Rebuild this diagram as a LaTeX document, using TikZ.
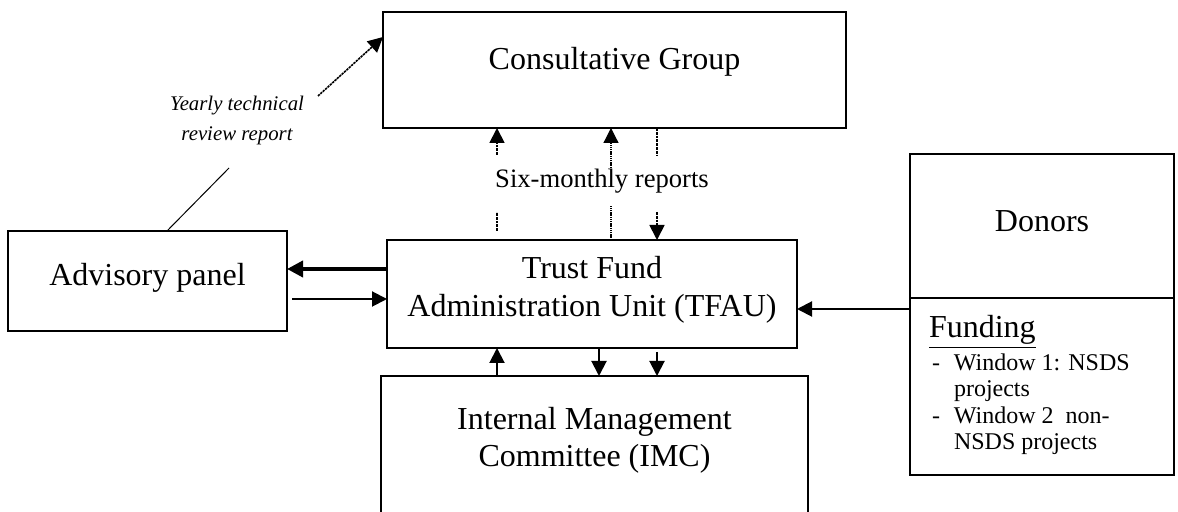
\documentclass[tikz,border=0pt]{standalone}
\usepackage{fontspec}
\setmainfont{Liberation Serif}
\usetikzlibrary{arrows.meta}
\begin{document}
\begin{tikzpicture}[x=0.5pt,y=-0.5pt,
  box/.style={draw, line width=0.9pt, inner sep=0pt, outer sep=0pt},
  txt/.style={inner sep=0pt, outer sep=0pt},
  big/.style={font=\fontsize{16}{19}\selectfont},
  tip/.style={-{Triangle[width=7.5pt,length=7.5pt]}},
  bigtip/.style={-{Triangle[width=8pt,length=8pt]}},
  conn/.style={line width=1pt, tip},
  thickconn/.style={line width=1.9pt, bigtip},
  dline/.style={line width=0.9pt, dash pattern=on 1.4pt off 0.5pt},
  fline/.style={line width=0.6pt, dash pattern=on 0.7pt off 0.4pt},
]
\useasboundingbox (0,0) rectangle (1178,512);

% boxes
\node[box, minimum width=231.5pt, minimum height=58pt] (cg) at (614.5,70) {};
\node[box, minimum width=205pt, minimum height=54pt] (tfau) at (592,294) {};
\node[box, minimum width=139.5pt, minimum height=50pt] (adv) at (147.5,281) {};
\node[box, minimum width=132pt, minimum height=72pt] (don) at (1042,226) {};
\node[box, minimum width=132pt, minimum height=88.5pt] (fund) at (1042,386.5) {};
\node[box, minimum width=213.5pt, minimum height=80pt] (imc) at (594.5,456) {};

% texts
\node[txt, big, anchor=base] (cgt) at (614.5,70) {Consultative Group};
\node[txt, align=center, font=\fontsize{16}{19}\selectfont] (tfaut) at (592,290) {Trust Fund\\Administration Unit (TFAU)};
\node[txt, big, anchor=base] (advt) at (147.5,286) {Advisory panel};
\node[txt, big, anchor=base] (dont) at (1042,232) {Donors};
\node[txt, align=center, font=\fontsize{16}{18.4}\selectfont] (imct) at (594.5,440.5) {Internal Management\\Committee (IMC)};
\node[txt, anchor=base, font=\fontsize{13.3}{16}\selectfont] (six) at (602,188) {Six-monthly reports};
\node[txt, align=center, font=\fontsize{10.4}{15}\selectfont\itshape] (yr) at (237,121) {Yearly technical\\review report};
\node[txt, anchor=base west, font=\fontsize{16}{19}\selectfont] (fundt) at (929,338) {\underline{Funding}};
\node[txt, anchor=west, align=left, font=\fontsize{12}{13.2}\selectfont] (fundl) at (932,404.3)
  {\makebox[11pt][l]{-}Window 1: NSDS\\
   \hspace*{11pt}projects\\
   \makebox[11pt][l]{-}Window 2\ \ non-\\
   \hspace*{11pt}NSDS projects};

% advisory <-> tfau
\draw[thickconn] (tfau.west |- 0,269) -- (adv.east |- 0,269);
\coordinate (advout) at (292,299);
\draw[conn] (advout) -- (tfau.west |- advout);

% donors -> tfau
\draw[conn] (fund.west |- 0,309) -- (tfau.east |- 0,309);

% six-monthly reports
\coordinate (a1lo) at (497,231);
\coordinate (a1mid) at (497,212);
\coordinate (a1hi) at (497,155);
\draw[dline] (a1lo) -- (a1mid);
\draw[dline, tip] (a1hi) -- (cg.south -| a1hi);

\coordinate (a2lo) at (611,205);
\coordinate (a2hi) at (611,168);
\draw[fline] (tfau.north -| a2lo) -- (a2lo);
\draw[fline, tip] (a2hi) -- (cg.south -| a2hi);

\coordinate (a3hi) at (657,155);
\coordinate (a3lo) at (657,212);
\draw[dline] (cg.south -| a3hi) -- (a3hi);
\draw[dline, tip] (a3lo) -- (tfau.north -| a3lo);

% tfau <-> imc
\draw[conn] (imc.north -| 497,0) -- (tfau.south -| 497,0);
\draw[conn] (tfau.south -| 599,0) -- (imc.north -| 599,0);
\coordinate (c657) at (657,352);
\draw[conn] (c657) -- (imc.north -| c657);

% yearly technical review report
\coordinate (yrlo) at (229,168);
\draw[line width=0.5pt] (adv.north -| 167,0) -- (yrlo);
\coordinate (yrhi) at (318,96);
\draw[line width=0.8pt, dash pattern=on 1.2pt off 0.4pt, tip] (yrhi) -- (cg.west |- 0,37);
\end{tikzpicture}
\end{document}
